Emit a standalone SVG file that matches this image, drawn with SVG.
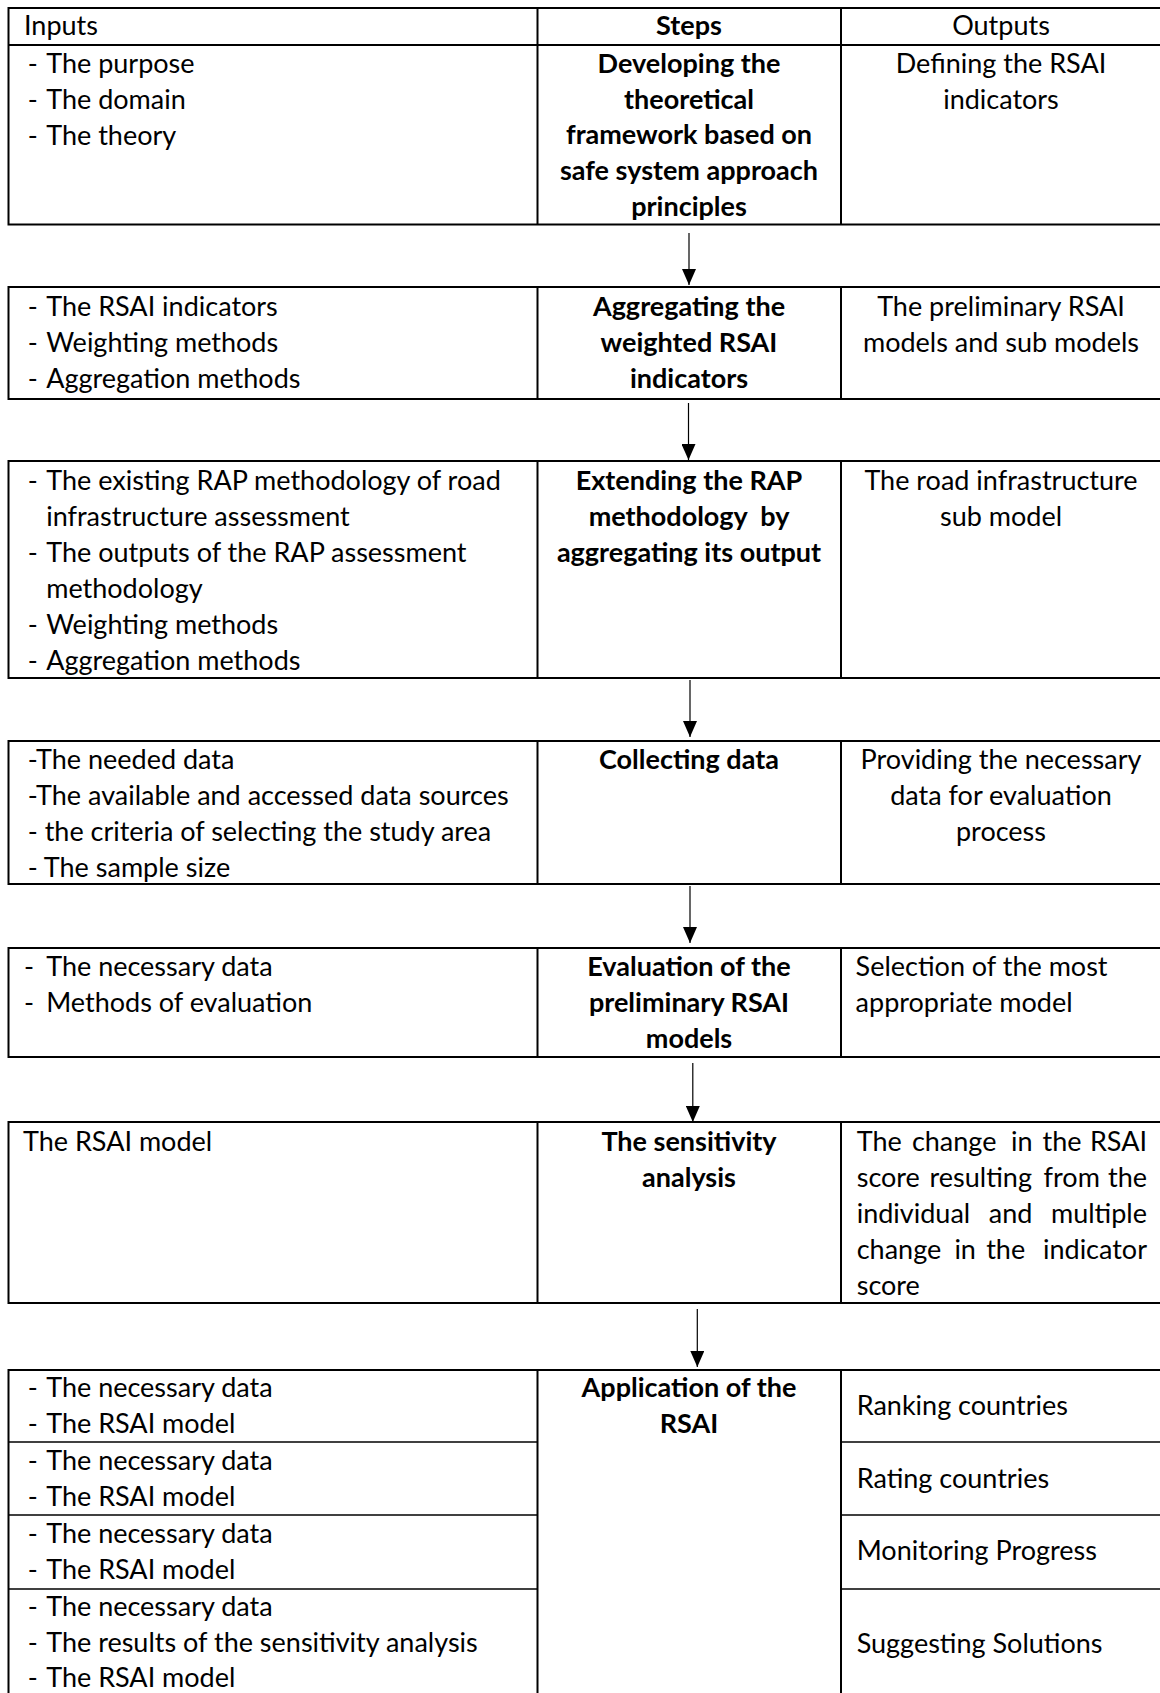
<svg xmlns="http://www.w3.org/2000/svg" width="1160" height="1693" viewBox="0 0 1160 1693">
<defs>
<style>
.frame{fill:none;stroke:#000;stroke-width:2}
.div{stroke:#000;stroke-width:2}
.sub{stroke:#000;stroke-width:1.6}
.conn{stroke:#000;stroke-width:1.2;fill:none}
text{font-family:Lato,Carlito,"Liberation Sans",sans-serif;font-size:27px;fill:#000}
.b{font-weight:bold;text-anchor:middle}
.c{text-anchor:middle}
.e{text-anchor:end}
.pre{white-space:pre}
</style>
<marker id="ah" markerUnits="userSpaceOnUse" markerWidth="16" markerHeight="14" refX="16" refY="7" orient="auto">
<path d="M0,0 L16,7 L0,14 Z" fill="#000"/>
</marker>
</defs>
<rect width="1160" height="1693" fill="#fff"/>

<g id="step1">
<rect class="frame" x="8.5" y="8" width="1154" height="216.5"/>
<line class="div" x1="8.5" y1="45" x2="1162.5" y2="45"/>
<line class="div" x1="537.5" y1="8" x2="537.5" y2="224.5"/>
<line class="div" x1="841" y1="8" x2="841" y2="224.5"/>
<text x="24" y="35">Inputs</text>
<text class="b" x="689" y="35">Steps</text>
<text class="c" x="1001" y="35">Outputs</text>
<text y="72.7"><tspan x="27.7">- </tspan><tspan x="46.2">The purpose</tspan></text>
<text y="108.7"><tspan x="27.7">- </tspan><tspan x="46.2">The domain</tspan></text>
<text y="144.7"><tspan x="27.7">- </tspan><tspan x="46.2">The theory</tspan></text>
<text class="b" x="689" y="72.7">Developing the</text>
<text class="b" x="689" y="108.5">theoretical</text>
<text class="b" x="689" y="144.3">framework based on</text>
<text class="b" x="689" y="180.1">safe system approach</text>
<text class="b" x="689" y="215.9">principles</text>
<text class="c" x="1001" y="72.7">Defining the RSAI</text>
<text class="c" x="1001" y="108.7">indicators</text>
</g>

<g id="step2">
<rect class="frame" x="8.5" y="287" width="1154" height="112"/>
<line class="div" x1="537.5" y1="287" x2="537.5" y2="399"/>
<line class="div" x1="841" y1="287" x2="841" y2="399"/>
<text y="316"><tspan x="27.7">- </tspan><tspan x="46.2">The RSAI indicators</tspan></text>
<text y="352"><tspan x="27.7">- </tspan><tspan x="46.2">Weighting methods</tspan></text>
<text y="388"><tspan x="27.7">- </tspan><tspan x="46.2">Aggregation methods</tspan></text>
<text class="b" x="689" y="316">Aggregating the</text>
<text class="b" x="689" y="352">weighted RSAI</text>
<text class="b" x="689" y="388">indicators</text>
<text class="c" x="1001" y="316">The preliminary RSAI</text>
<text class="c" x="1001" y="352">models and sub models</text>
</g>

<g id="step3">
<rect class="frame" x="8.5" y="461" width="1154" height="217"/>
<line class="div" x1="537.5" y1="461" x2="537.5" y2="678"/>
<line class="div" x1="841" y1="461" x2="841" y2="678"/>
<text y="490"><tspan x="27.7">- </tspan><tspan x="46.2">The existing RAP methodology of road</tspan></text>
<text x="46.2" y="526">infrastructure assessment</text>
<text y="562"><tspan x="27.7">- </tspan><tspan x="46.2">The outputs of the RAP assessment</tspan></text>
<text x="46.2" y="598">methodology</text>
<text y="634"><tspan x="27.7">- </tspan><tspan x="46.2">Weighting methods</tspan></text>
<text y="670"><tspan x="27.7">- </tspan><tspan x="46.2">Aggregation methods</tspan></text>
<text class="b" x="689" y="490">Extending the RAP</text>
<text class="b pre" x="689" y="526">methodology  by</text>
<text class="b" x="689" y="562">aggregating its output</text>
<text class="c" x="1001" y="490">The road infrastructure</text>
<text class="c" x="1001" y="526">sub model</text>
</g>

<g id="step4">
<rect class="frame" x="8.5" y="741" width="1154" height="143"/>
<line class="div" x1="537.5" y1="741" x2="537.5" y2="884"/>
<line class="div" x1="841" y1="741" x2="841" y2="884"/>
<text x="27.7" y="768.5">-The needed data</text>
<text x="27.7" y="804.5">-The available and accessed data sources</text>
<text x="27.7" y="840.5">- the criteria of selecting the study area</text>
<text x="27.7" y="876.5">- The sample size</text>
<text class="b" x="689" y="768.5">Collecting data</text>
<text class="c" x="1001" y="768.5">Providing the necessary</text>
<text class="c" x="1001" y="804.5">data for evaluation</text>
<text class="c" x="1001" y="840.5">process</text>
</g>

<g id="step5">
<rect class="frame" x="8.5" y="948" width="1154" height="109"/>
<line class="div" x1="537.5" y1="948" x2="537.5" y2="1057"/>
<line class="div" x1="841" y1="948" x2="841" y2="1057"/>
<text y="976"><tspan x="24">-  </tspan><tspan x="46.2">The necessary data</tspan></text>
<text y="1012"><tspan x="24">-  </tspan><tspan x="46.2">Methods of evaluation</tspan></text>
<text class="b" x="689" y="976">Evaluation of the</text>
<text class="b" x="689" y="1012">preliminary RSAI</text>
<text class="b" x="689" y="1048">models</text>
<text x="855.6" y="976">Selection of the most</text>
<text x="855.6" y="1012">appropriate model</text>
</g>

<g id="step6">
<rect class="frame" x="8.5" y="1122" width="1154" height="181"/>
<line class="div" x1="537.5" y1="1122" x2="537.5" y2="1303"/>
<line class="div" x1="841" y1="1122" x2="841" y2="1303"/>
<text x="23" y="1151">The RSAI model</text>
<text class="b" x="689" y="1151">The sensitivity</text>
<text class="b" x="689" y="1187">analysis</text>
<text y="1151"><tspan x="856.7">The </tspan><tspan x="911.9">change </tspan><tspan x="1011">in </tspan><tspan x="1042.5">the </tspan></text>
<text class="e" x="1147" y="1151">RSAI</text>
<text y="1187"><tspan x="856.7">score </tspan><tspan x="929.6">resulting </tspan><tspan x="1043.6">from </tspan></text>
<text class="e" x="1147" y="1187">the</text>
<text y="1223"><tspan x="856.7">individual </tspan><tspan x="988.8">and </tspan></text>
<text class="e" x="1147" y="1223">multiple</text>
<text y="1259"><tspan x="856.7">change </tspan><tspan x="954.4">in </tspan><tspan x="986.2">the </tspan></text>
<text class="e" x="1147" y="1259">indicator</text>
<text x="856.7" y="1295">score</text>
</g>

<g id="step7">
<rect class="frame" x="8.5" y="1370" width="1154" height="330"/>
<line class="div" x1="537.5" y1="1370" x2="537.5" y2="1700"/>
<line class="div" x1="841" y1="1370" x2="841" y2="1700"/>
<text class="b" x="689" y="1397">Application of the</text>
<text class="b" x="689" y="1433">RSAI</text>
<g id="app-ranking">
<text y="1397"><tspan x="27.7">- </tspan><tspan x="46.2">The necessary data</tspan></text>
<text y="1433"><tspan x="27.7">- </tspan><tspan x="46.2">The RSAI model</tspan></text>
<text x="856.7" y="1415">Ranking countries</text>
</g>
<line class="sub" x1="8.5" y1="1442" x2="537.5" y2="1442"/>
<line class="sub" x1="841" y1="1442" x2="1162.5" y2="1442"/>
<g id="app-rating">
<text y="1470"><tspan x="27.7">- </tspan><tspan x="46.2">The necessary data</tspan></text>
<text y="1506"><tspan x="27.7">- </tspan><tspan x="46.2">The RSAI model</tspan></text>
<text x="856.7" y="1488">Rating countries</text>
</g>
<line class="sub" x1="8.5" y1="1515" x2="537.5" y2="1515"/>
<line class="sub" x1="841" y1="1515" x2="1162.5" y2="1515"/>
<g id="app-monitoring">
<text y="1543"><tspan x="27.7">- </tspan><tspan x="46.2">The necessary data</tspan></text>
<text y="1579"><tspan x="27.7">- </tspan><tspan x="46.2">The RSAI model</tspan></text>
<text x="856.7" y="1560">Monitoring Progress</text>
</g>
<line class="sub" x1="8.5" y1="1589" x2="537.5" y2="1589"/>
<line class="sub" x1="841" y1="1589" x2="1162.5" y2="1589"/>
<g id="app-suggesting">
<text y="1616"><tspan x="27.7">- </tspan><tspan x="46.2">The necessary data</tspan></text>
<text y="1651.5"><tspan x="27.7">- </tspan><tspan x="46.2">The results of the sensitivity analysis</tspan></text>
<text y="1687"><tspan x="27.7">- </tspan><tspan x="46.2">The RSAI model</tspan></text>
<text x="856.7" y="1653">Suggesting Solutions</text>
</g>
</g>

<g id="connectors">
<line class="conn" x1="689" y1="233" x2="689" y2="285" marker-end="url(#ah)"/>
<line class="conn" x1="688.5" y1="403" x2="688.5" y2="460" marker-end="url(#ah)"/>
<line class="conn" x1="690" y1="680" x2="690" y2="737" marker-end="url(#ah)"/>
<line class="conn" x1="690" y1="886" x2="690" y2="943" marker-end="url(#ah)"/>
<line class="conn" x1="692.8" y1="1063" x2="692.8" y2="1122" marker-end="url(#ah)"/>
<line class="conn" x1="697.3" y1="1309" x2="697.3" y2="1367" marker-end="url(#ah)"/>
</g>
</svg>
